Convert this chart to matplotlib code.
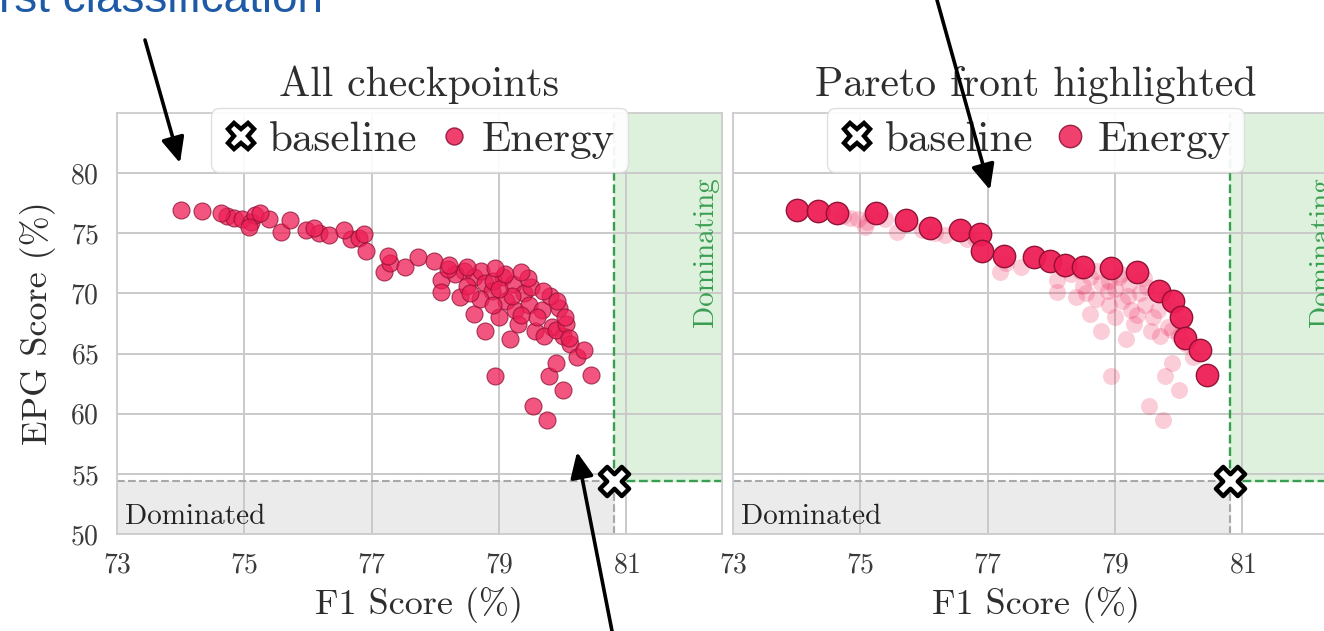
import matplotlib
matplotlib.use("Agg")
import matplotlib.pyplot as plt
from matplotlib.patches import FancyArrowPatch
from matplotlib.lines import Line2D

plt.rcParams['font.family'] = ['cmr10', 'DejaVu Serif']
plt.rcParams['mathtext.fontset'] = 'cm'
plt.rcParams['axes.formatter.use_mathtext'] = True

# Pareto-optimal checkpoints (F1 %, EPG %)
pareto_f1 = [74.00, 74.34, 74.63, 75.25, 75.72, 76.09, 76.56, 76.88, 76.91, 77.25,
             77.72, 77.97, 78.22, 78.50, 78.94, 79.34, 79.69, 79.91, 80.03, 80.09,
             80.34, 80.44]
pareto_epg = [76.95, 76.85, 76.70, 76.65, 76.10, 75.45, 75.25, 74.90, 73.50, 73.10,
              73.00, 72.70, 72.40, 72.20, 72.15, 71.80, 70.20, 69.40, 68.00, 66.30,
              65.30, 63.20]

# Remaining (dominated) checkpoints
other_f1 = [74.72, 74.83, 74.97, 75.11, 75.17, 75.08, 75.39, 75.58, 75.97, 76.17,
            76.33, 76.67, 76.80, 77.19, 77.28, 77.53, 78.08, 78.08, 78.39, 78.45,
            78.61, 78.61, 78.72, 78.78, 78.78, 78.89, 78.94, 79.06, 79.11, 79.17,
            79.22, 79.25, 79.39, 79.47, 79.53, 79.56, 79.67, 79.75, 79.78, 79.83,
            79.89, 79.94, 80.00, 80.00, 80.11, 80.22, 78.30, 78.50, 78.70, 78.90,
            79.00, 79.20, 79.30, 79.50, 79.60, 79.70, 79.90, 79.45, 79.00, 78.90,
            79.35, 80.05, 78.20, 78.55, 79.10, 79.80]
other_epg = [76.45, 76.30, 76.15, 75.90, 76.55, 75.50, 76.20, 75.10, 75.30, 75.00,
             74.85, 74.50, 74.60, 71.80, 72.50, 72.20, 71.10, 70.10, 69.70, 71.90,
             71.40, 68.30, 71.90, 70.90, 66.90, 70.20, 63.10, 71.40, 69.40, 66.20,
             70.80, 68.60, 70.00, 69.00, 60.60, 66.90, 68.60, 59.50, 63.10, 67.20,
             64.20, 68.80, 62.00, 66.50, 65.80, 64.70, 71.60, 70.60, 69.50, 71.00,
             68.00, 69.80, 67.50, 70.50, 68.00, 66.50, 67.00, 71.30, 70.40, 69.00,
             68.20, 67.50, 72.00, 70.00, 71.60, 69.80]

baseline_f1 = 80.81
baseline_epg = 54.4

x_ticks = [73, 75, 77, 79, 81]
y_ticks = [50, 55, 60, 65, 70, 75, 80]
x_lim = (73, 82.5)
y_lim = (50, 85)
titles = ["All checkpoints", "Pareto front highlighted"]

DOT = '#EE1E55'
DOT_EDGE = '#8C0F33'
GREEN = '#3A9E52'
GRAY_LINE = '#A8A8A8'
TEXT = '#2E2E2E'

W, H = 1324, 631
fig = plt.figure(figsize=(W / 100, H / 100), dpi=100)
fig.patch.set_facecolor('white')


def px_axes(x0, y0, x1, y1):
    return fig.add_axes([x0 / W, 1 - y1 / H, (x1 - x0) / W, (y1 - y0) / H])


ax_all = px_axes(117, 113, 722, 534)
ax_par = px_axes(733, 113, 1338, 534)

for ax, title in zip([ax_all, ax_par], titles):
    ax.set_xlim(*x_lim)
    ax.set_ylim(*y_lim)
    ax.set_xticks(x_ticks)
    ax.set_yticks(y_ticks)
    ax.set_axisbelow(True)
    ax.grid(True, color='#C9C9C9', linewidth=1.4)
    for sp in ax.spines.values():
        sp.set_color('#CDCDCD')
        sp.set_linewidth(1.3)
    ax.tick_params(length=0, labelsize=20, pad=13, colors='#3A3A3A')

    # dominated / dominating regions around the baseline
    ax.fill_between([x_lim[0], baseline_f1], y_lim[0], baseline_epg,
                    color='#EBEBEB', zorder=0.2)
    ax.fill_between([baseline_f1, x_lim[1]], baseline_epg, y_lim[1],
                    color='#DDF1DD', zorder=0.2)
    ax.plot([x_lim[0], baseline_f1], [baseline_epg] * 2, ls='--',
            color=GRAY_LINE, lw=1.5, zorder=1)
    ax.plot([baseline_f1] * 2, [y_lim[0], baseline_epg], ls='--',
            color=GRAY_LINE, lw=1.5, zorder=1)
    ax.plot([baseline_f1] * 2, [baseline_epg, y_lim[1]], ls='--',
            color=GREEN, lw=1.7, zorder=1)
    ax.plot([baseline_f1, x_lim[1]], [baseline_epg] * 2, ls='--',
            color=GREEN, lw=1.7, zorder=1)
    ax.text(73.13, 51.4, "Dominated", fontsize=21, va='center', ha='left',
            color='#222222')
    ax.text(82.25, 79.7, "Dominating", fontsize=21, rotation=90, va='top',
            ha='center', color=GREEN)

    ax.set_xlabel("F1 Score (%)", fontsize=26, va='center', color=TEXT)
    ax.xaxis.set_label_coords(0.5, -(605 - 534) / 421)
    ax.text(0.5, 1 + (113 - 85) / 421, title, transform=ax.transAxes,
            ha='center', va='center', fontsize=30, color=TEXT)

ax_all.set_ylabel("EPG Score (%)", fontsize=26, va='center', color=TEXT)
ax_all.yaxis.set_label_coords((38 - 117) / 605, 0.5)
ax_par.set_yticklabels([])

# left panel: every checkpoint
all_f1 = other_f1 + pareto_f1
all_epg = other_epg + pareto_epg
ax_all.scatter(all_f1, all_epg, s=150, color=DOT, alpha=0.75,
               edgecolor=DOT_EDGE, linewidth=0.8, zorder=3, label='Energy')

# right panel: Pareto front on top of faded checkpoints
ax_par.scatter(other_f1, other_epg, s=150, color=DOT, alpha=0.22,
               linewidth=0, zorder=3)
ax_par.scatter(pareto_f1, pareto_epg, s=260, color=DOT, alpha=0.95,
               edgecolor=DOT_EDGE, linewidth=1.0, zorder=4, label='Energy')

for ax, dot_size in [(ax_all, 150), (ax_par, 260)]:
    ax.scatter([baseline_f1], [baseline_epg], marker='X', s=440,
               facecolor='white', edgecolor='black', linewidth=3.2,
               zorder=6, label='baseline')
    handles = [
        Line2D([], [], marker='X', ls='', markersize=19, markerfacecolor='white',
               markeredgecolor='black', markeredgewidth=3.2, label='baseline'),
        Line2D([], [], marker='o', ls='', markersize=dot_size ** 0.5,
               markerfacecolor=DOT, markeredgecolor=DOT_EDGE,
               alpha=0.85, label='Energy'),
    ]
    leg = ax.legend(handles=handles, loc='upper center',
                    bbox_to_anchor=(0.5, 1 + 5 / 421), ncol=2, fontsize=31,
                    frameon=True, fancybox=True, framealpha=0.92,
                    handlelength=0.8, handletextpad=0.25, columnspacing=0.45,
                    borderpad=0.3, borderaxespad=0)
    leg.get_frame().set_edgecolor('#DDDDDD')
    for t in leg.get_texts():
        t.set_color(TEXT)

# slide heading above the figure
fig.text(-1 / W, 1 - 12 / H, "rst classification", fontsize=33,
         family=['Liberation Sans'], color='#1F5AA6', va='baseline', ha='left')

# pointer arrows
for (x0, y0), (x1, y1) in [((145, 40), (180, 163)),
                           ((937, 0), (990, 190)),
                           ((612, 631), (577, 452))]:
    arr = FancyArrowPatch((x0 / W, 1 - y0 / H), (x1 / W, 1 - y1 / H),
                          transform=fig.transFigure,
                          arrowstyle='-|>,head_length=0.55,head_width=0.25',
                          mutation_scale=28, linewidth=2.6, color='black',
                          shrinkA=0, shrinkB=0, zorder=20)
    fig.add_artist(arr)

fig.savefig("out.png", dpi=100)
